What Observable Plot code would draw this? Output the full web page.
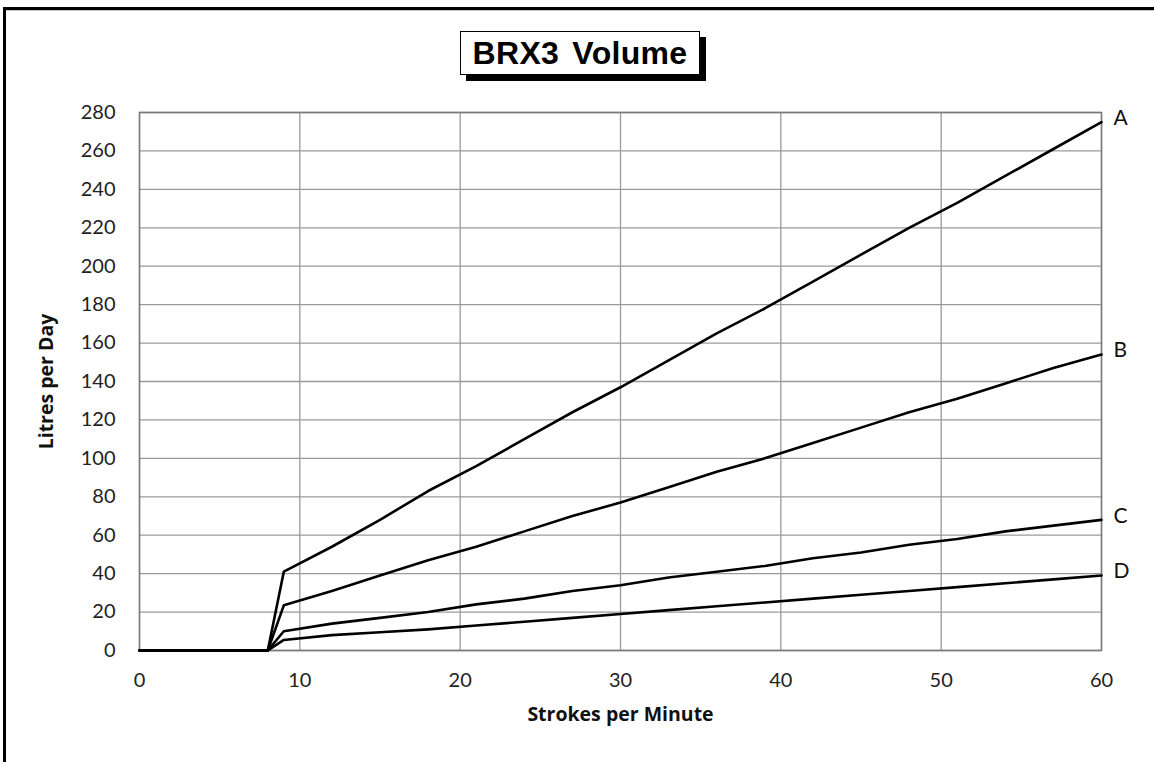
<!DOCTYPE html>
<html>
<head>
<meta charset="utf-8">
<script src="https://cdn.jsdelivr.net/npm/d3@7"></script>
<script src="https://cdn.jsdelivr.net/npm/@observablehq/plot@0.6"></script>
<style>
  html, body { margin: 0; padding: 0; background: #fff; width: 1154px; height: 762px; overflow: hidden; }
  #frame { position: absolute; left: 3px; top: 7px; width: 1200px; height: 800px;
           border-top: 3px solid #000; border-left: 3px solid #000; }
  #frame-inner { position: absolute; left: 0; top: 0; right: 0; height: 0; border-top: 1px solid #c8c8c8; }
  #chart { position: absolute; left: 0; top: 0; }
  #title { position: absolute; left: 460px; top: 31px; width: 238px; height: 42px;
           border: 1px solid #000; background: #fff; box-shadow: 6px 6px 0 #000;
           font-family: "Liberation Sans", Arial, sans-serif; font-weight: bold; font-size: 32px;
           line-height: 42px; text-align: center; color: #000; word-spacing: 4px; letter-spacing: 0.3px; }
</style>
</head>
<body>
<div id="frame"><div id="frame-inner"></div></div>
<div id="chart"></div>
<div id="title">BRX3 Volume</div>
<script>
const strokes = [0, 8, 9, 12, 15, 18, 21, 24, 27, 30, 33, 36, 39, 42, 45, 48, 51, 54, 57, 60];
const seriesA = [0, 0, 41, 54, 68, 83, 96, 110, 124, 137, 151, 165, 178, 192, 206, 220, 233, 247, 261, 275];
const seriesB = [0, 0, 23.5, 31, 39, 47, 54, 62, 70, 77, 85, 93, 100, 108, 116, 124, 131, 139, 147, 154];
const seriesC = [0, 0, 10, 14, 17, 20, 24, 27, 31, 34, 38, 41, 44, 48, 51, 55, 58, 62, 65, 68];
const seriesD = [0, 0, 5.5, 8, 9.5, 11, 13, 15, 17, 19, 21, 23, 25, 27, 29, 31, 33, 35, 37, 39];
const seriesNames = ["A", "B", "C", "D"];
const xTicks = [0, 10, 20, 30, 40, 50, 60];
const yTicks = [0, 20, 40, 60, 80, 100, 120, 140, 160, 180, 200, 220, 240, 260, 280];
const xTitle = "Strokes per Minute";
const yTitle = "Litres per Day";

const allSeries = [seriesA, seriesB, seriesC, seriesD];
const rows = [];
allSeries.forEach((vals, i) => vals.forEach((v, j) => rows.push({series: seriesNames[i], x: strokes[j], y: v})));
const ends = allSeries.map((vals, i) => ({series: seriesNames[i], x: strokes[strokes.length - 1], y: vals[vals.length - 1]}));

const font = "Lato, 'Open Sans', sans-serif";
const titleFont = "'Open Sans', Lato, sans-serif";

const plot = Plot.plot({
  width: 1154,
  height: 762,
  marginLeft: 139,
  marginRight: 53,
  marginTop: 112,
  marginBottom: 112,
  style: {fontFamily: font, fontSize: "20px", color: "#222", background: "transparent", overflow: "visible"},
  x: {domain: [0, 60]},
  y: {domain: [0, 280]},
  marks: [
    Plot.gridX(xTicks, {stroke: "#9a9a9a", strokeOpacity: 1, strokeWidth: 1.3}),
    Plot.gridY(yTicks, {stroke: "#9a9a9a", strokeOpacity: 1, strokeWidth: 1.3}),
    Plot.frame({stroke: "#7a7a7a", strokeWidth: 1.5}),
    Plot.axisX(xTicks, {tickSize: 0, tickPadding: 22, label: null, fill: "#222"}),
    Plot.axisY(yTicks, {tickSize: 0, tickPadding: 24, label: null, fill: "#222"}),
    Plot.line(rows, {x: "x", y: "y", z: "series", stroke: "#000", strokeWidth: 2.6}),
    Plot.text(ends, {x: "x", y: "y", text: "series", textAnchor: "start", dx: 12, dy: -4, fontSize: 21, fill: "#111"}),
    Plot.text([xTitle], {frameAnchor: "bottom", dy: 64, textAnchor: "middle", lineAnchor: "middle", fontFamily: titleFont, fontWeight: "bold", fontSize: 19.5, fill: "#111"}),
    Plot.text([yTitle], {frameAnchor: "left", dx: -93, rotate: -90, textAnchor: "middle", lineAnchor: "middle", fontFamily: titleFont, fontWeight: "bold", fontSize: 19.5, fill: "#111"})
  ]
});
document.getElementById("chart").append(plot);
</script>
</body>
</html>
